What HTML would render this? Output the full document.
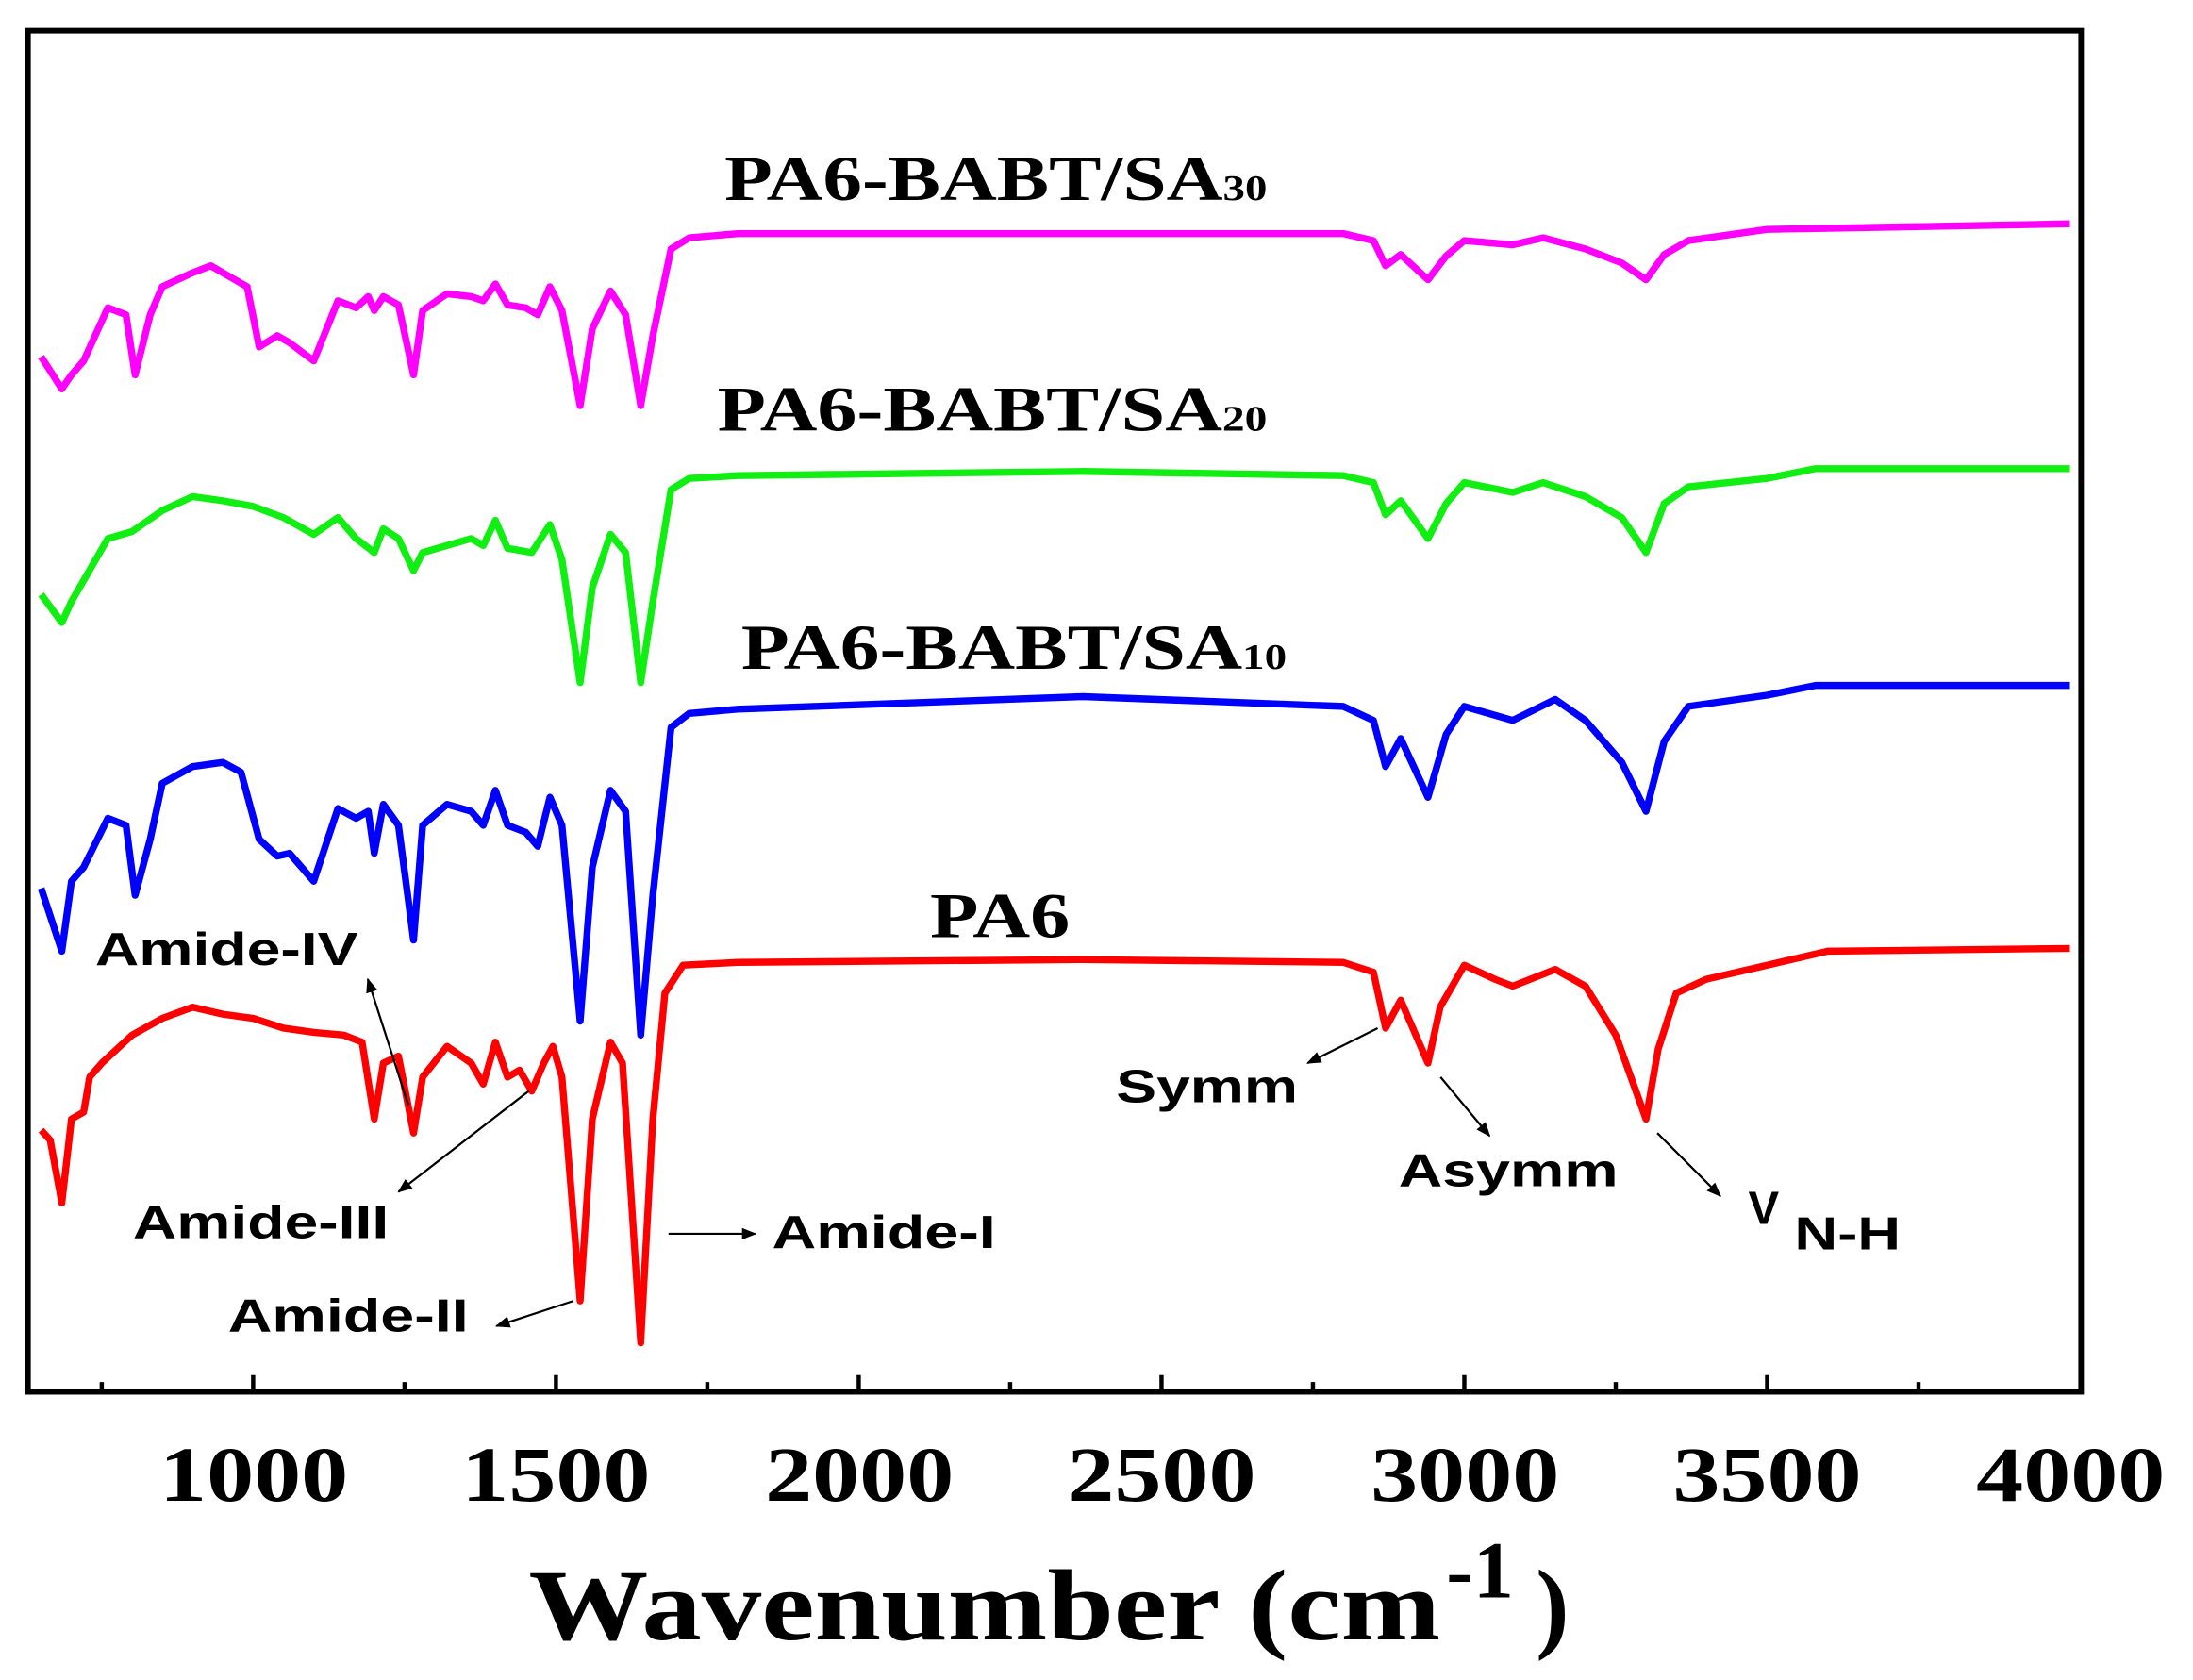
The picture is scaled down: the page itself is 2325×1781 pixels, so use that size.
<!DOCTYPE html>
<html><head><meta charset="utf-8"><style>
html,body{margin:0;padding:0;background:#fff;}
svg{display:block;}
.t{font-family:"Liberation Serif",serif;font-weight:bold;}
.s{font-family:"Liberation Sans",sans-serif;font-weight:bold;font-size:33px;}
</style></head><body>
<svg width="2325" height="1781" viewBox="0 0 1568 1201" preserveAspectRatio="none" xmlns="http://www.w3.org/2000/svg">
<defs><marker id="a" viewBox="0 0 10 10" refX="9" refY="5" markerWidth="7" markerHeight="7" orient="auto"><path d="M0,1 L10,5 L0,9 z" fill="#000"/></marker></defs>
<rect width="1568" height="1201" fill="#fff"/>
<g id="curves" fill="none" stroke-width="5" stroke-linejoin="round"></g>
<rect x="20" y="22" width="1468" height="973" fill="none" stroke="#000" stroke-width="4"/>
<g stroke="#000" stroke-width="3" id="ticks"></g>
<g class="t" font-size="56">
<text x="114" y="1073" textLength="135" lengthAdjust="spacingAndGlyphs">1000</text>
<text x="330" y="1073" textLength="135" lengthAdjust="spacingAndGlyphs">1500</text>
<text x="547" y="1073" textLength="135" lengthAdjust="spacingAndGlyphs">2000</text>
<text x="763" y="1073" textLength="135" lengthAdjust="spacingAndGlyphs">2500</text>
<text x="980" y="1073" textLength="135" lengthAdjust="spacingAndGlyphs">3000</text>
<text x="1196" y="1073" textLength="135" lengthAdjust="spacingAndGlyphs">3500</text>
<text x="1413" y="1073" textLength="135" lengthAdjust="spacingAndGlyphs">4000</text>
</g>
<text class="t" x="378" y="1172" font-size="72" textLength="652" lengthAdjust="spacingAndGlyphs">Wavenumber (cm</text>
<text class="t" x="1034" y="1142" font-size="58">-1</text>
<text class="t" x="1098" y="1172" font-size="72">)</text>
<g class="t" font-size="46">
<text x="518" y="143" textLength="388" lengthAdjust="spacingAndGlyphs">PA6-BABT/SA<tspan font-size="26">30</tspan></text>
<text x="513" y="308" textLength="393" lengthAdjust="spacingAndGlyphs">PA6-BABT/SA<tspan font-size="26">20</tspan></text>
<text x="530" y="478" textLength="390" lengthAdjust="spacingAndGlyphs">PA6-BABT/SA<tspan font-size="26">10</tspan></text>
<text x="665" y="670" textLength="100" lengthAdjust="spacingAndGlyphs">PA6</text>
</g>
<g class="s">
<text x="68" y="690" textLength="188" lengthAdjust="spacingAndGlyphs">Amide-IV</text>
<text x="95" y="885" textLength="183" lengthAdjust="spacingAndGlyphs">Amide-III</text>
<text x="163" y="952" textLength="172" lengthAdjust="spacingAndGlyphs">Amide-II</text>
<text x="552" y="892" textLength="160" lengthAdjust="spacingAndGlyphs">Amide-I</text>
<text x="798" y="788" textLength="130" lengthAdjust="spacingAndGlyphs">Symm</text>
<text x="1000" y="848" textLength="157" lengthAdjust="spacingAndGlyphs">Asymm</text>
<text x="1250" y="875">V</text><text x="1283" y="893" textLength="76" lengthAdjust="spacingAndGlyphs">N-H</text>
</g>
<g stroke="#000" stroke-width="1.5" marker-end="url(#a)">
<line x1="292" y1="790" x2="263" y2="700"/>
<line x1="378" y1="780" x2="285" y2="852"/>
<line x1="410" y1="930" x2="355" y2="948"/>
<line x1="478" y1="882" x2="540" y2="882"/>
<line x1="985" y1="735" x2="935" y2="760"/>
<line x1="1030" y1="770" x2="1065" y2="812"/>
<line x1="1185" y1="810" x2="1230" y2="855"/>
</g>
<script>
function X(w){return 181+(w-1000)*0.433;}
var S={
"#ff0000":[[650,808],[665,815],[684,860],[700,800],[720,795],[730,770],[750,760],[800,740],[850,728],[900,720],[950,725],[1000,728],[1050,735],[1100,738],[1150,740],[1180,745],[1200,800],[1215,760],[1240,755],[1265,810],[1280,770],[1320,748],[1360,760],[1380,775],[1400,745],[1420,770],[1440,765],[1460,780],[1480,760],[1495,748],[1510,770],[1540,930],[1560,800],[1590,745],[1610,760],[1640,960],[1660,800],[1680,710],[1710,690],[1800,688],[2370,686],[2800,688],[2850,695],[2870,735],[2895,715],[2940,760],[2960,720],[3000,690],[3050,700],[3080,705],[3150,693],[3200,705],[3250,740],[3275,770],[3300,800],[3320,750],[3350,710],[3400,700],[3500,690],[3600,680],[4000,678]],
"#0000ff":[[650,635],[684,680],[700,630],[720,620],[760,585],[790,590],[805,640],[830,600],[850,560],[900,548],[950,545],[980,552],[1010,600],[1040,612],[1060,610],[1100,630],[1140,578],[1170,585],[1190,580],[1200,610],[1215,575],[1240,590],[1265,672],[1280,590],[1320,575],[1360,580],[1380,590],[1400,565],[1420,590],[1450,595],[1470,605],[1490,570],[1510,590],[1540,730],[1560,620],[1590,565],[1615,580],[1640,740],[1660,640],[1690,520],[1720,510],[1800,507],[2370,498],[2800,505],[2850,515],[2870,548],[2895,528],[2940,570],[2970,525],[3000,505],[3080,515],[3150,500],[3200,515],[3260,545],[3300,580],[3330,530],[3370,505],[3500,497],[3580,490],[4000,490]],
"#11ee11":[[650,425],[684,445],[700,430],[720,415],[760,385],[800,380],[850,365],[900,355],[950,358],[1000,362],[1050,370],[1100,382],[1140,370],[1170,385],[1200,395],[1215,378],[1240,385],[1265,408],[1280,395],[1320,390],[1360,385],[1380,390],[1400,372],[1420,392],[1460,395],[1490,375],[1510,400],[1540,488],[1560,420],[1590,382],[1615,395],[1640,488],[1660,430],[1690,350],[1720,342],[1800,340],[2370,337],[2800,340],[2850,345],[2870,368],[2895,358],[2940,385],[2970,360],[3000,345],[3080,352],[3130,345],[3200,355],[3260,370],[3300,395],[3330,360],[3370,348],[3500,342],[3580,335],[4000,335]],
"#ff00ff":[[650,255],[684,278],[700,268],[720,258],[760,220],[790,225],[805,268],[830,225],[850,205],[900,195],[930,190],[970,200],[990,205],[1010,248],[1040,240],[1060,245],[1100,258],[1140,215],[1170,220],[1190,212],[1200,222],[1215,212],[1240,218],[1265,268],[1280,222],[1320,210],[1360,212],[1380,215],[1400,203],[1420,218],[1450,220],[1470,225],[1490,205],[1510,222],[1540,290],[1560,235],[1590,208],[1615,225],[1640,290],[1660,240],[1690,178],[1720,170],[1800,167],[2800,167],[2850,172],[2870,190],[2895,182],[2940,200],[2970,183],[3000,172],[3080,175],[3130,170],[3200,178],[3260,188],[3300,200],[3330,182],[3370,172],[3500,164],[4000,160]]};
var g=document.getElementById("curves"),ns="http://www.w3.org/2000/svg";
for(var c in S){var p=document.createElementNS(ns,"polyline");p.setAttribute("stroke",c);p.setAttribute("points",S[c].map(function(q){return X(q[0]).toFixed(1)+","+q[1];}).join(" "));g.appendChild(p);}
var t=document.getElementById("ticks");
for(var w=750;w<=3750;w+=250){var l=document.createElementNS(ns,"line");var x=X(w);l.setAttribute("x1",x);l.setAttribute("x2",x);l.setAttribute("y1",995);l.setAttribute("y2",w%500==0?983:988);t.appendChild(l);}
</script>
</svg>
</body></html>
